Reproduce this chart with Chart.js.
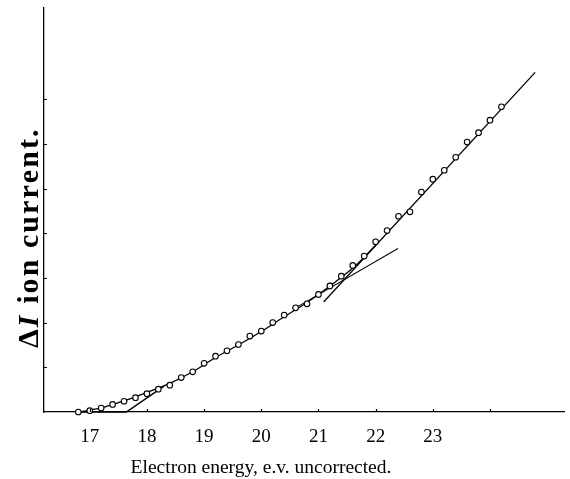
<!DOCTYPE html>
<html>
<head>
<meta charset="utf-8">
<script src="https://cdn.jsdelivr.net/npm/chart.js@4.4.0/dist/chart.umd.min.js"></script>
<style>
  html, body { margin: 0; padding: 0; background: #fff; }
</style>
</head>
<body>
<canvas id="ionChart" width="570" height="479"></canvas>
<script>
// measured points (electron energy in e.v., delta I in arbitrary units)
var energy = [16.8, 17.0, 17.2, 17.4, 17.6, 17.8, 18.0, 18.2, 18.4, 18.6,
              18.8, 19.0, 19.2, 19.4, 19.6, 19.8, 20.0, 20.2, 20.4, 20.6,
              20.8, 21.0, 21.2, 21.4, 21.6, 21.8, 22.0, 22.2, 22.4, 22.6,
              22.8, 23.0, 23.2, 23.4, 23.6, 23.8, 24.0, 24.2];
var ionCurrent = [0.00, 0.03, 0.09, 0.17, 0.24, 0.32, 0.41, 0.51, 0.60, 0.77,
                  0.90, 1.09, 1.25, 1.37, 1.51, 1.70, 1.81, 2.00, 2.17, 2.33,
                  2.42, 2.63, 2.82, 3.04, 3.28, 3.49, 3.81, 4.06, 4.38, 4.48,
                  4.92, 5.21, 5.41, 5.70, 6.04, 6.25, 6.53, 6.83];

// smooth curve drawn through the lower part
var curveEnergy = [16.8, 17.2, 17.6, 18.0, 18.4, 18.8, 19.2, 19.6, 20.0, 20.4, 20.8, 21.2, 21.6, 22.0];
var curveCurrent = [0.00, 0.09, 0.25, 0.44, 0.64, 0.90, 1.22, 1.50, 1.80, 2.13, 2.45, 2.82, 3.22, 3.73];

// straight line fitted to upper part
var upperEnergy = [21.09, 24.79];
var upperCurrent = [2.46, 7.60];

// extension of the lower slope past the break
var lowerEnergy = [20.60, 22.39];
var lowerCurrent = [2.33, 3.66];

// onset extrapolation near 17.6
var onsetEnergy = [16.8, 17.64, 18.3];
var onsetCurrent = [0, 0, 0.58];

var xTicks = [17, 18, 19, 20, 21, 22, 23, 24];
var xTickLabels = ['17', '18', '19', '20', '21', '22', '23', ''];
var yTicks = [1, 2, 3, 4, 5, 6, 7];

var xTitle = 'Electron energy, e.v. uncorrected.';
var yTitleRuns = [
    {text: '\u0394', font: 'bold 30px "Liberation Serif"'},
    {text: 'I', font: 'italic bold 30px "Liberation Serif"'},
    {text: ' ion current.', font: 'bold 30px "Liberation Serif"'}
];

var serif = '"Liberation Serif", "DejaVu Serif", serif';

function pairs(xs, ys) {
    return xs.map(function(x, i) { return {x: x, y: ys[i]}; });
}

function lineSet(xs, ys, extra) {
    var ds = {
        data: pairs(xs, ys),
        showLine: true,
        borderColor: '#000',
        borderWidth: 1.3,
        pointRadius: 0,
        fill: false,
        clip: false
    };
    for (var k in extra) ds[k] = extra[k];
    return ds;
}

// tick marks point into the plot
var inwardTicks = {
    id: 'inwardTicks',
    afterDatasetsDraw: function(chart) {
        var ctx = chart.ctx;
        var xs = chart.scales.x;
        var ys = chart.scales.y;
        ctx.save();
        ctx.strokeStyle = '#000';
        ctx.lineWidth = 1.2;
        ctx.beginPath();
        xTicks.forEach(function(v) {
            var px = Math.round(xs.getPixelForValue(v)) + 0.5;
            ctx.moveTo(px, ys.bottom);
            ctx.lineTo(px, ys.bottom - 3);
        });
        yTicks.forEach(function(v) {
            var py = Math.round(ys.getPixelForValue(v)) + 0.5;
            ctx.moveTo(xs.left, py);
            ctx.lineTo(xs.left + 3, py);
        });
        ctx.stroke();
        ctx.restore();
    }
};

// axis titles sit off-centre in the original, so they are placed by hand
var axisTitles = {
    id: 'axisTitles',
    afterDraw: function(chart) {
        var ctx = chart.ctx;
        ctx.save();
        ctx.fillStyle = '#000';
        ctx.font = '19.5px ' + serif;
        ctx.textAlign = 'center';
        ctx.textBaseline = 'alphabetic';
        ctx.fillText(xTitle, 261, 473);

        ctx.translate(38, 348);
        ctx.rotate(-Math.PI / 2);
        ctx.textAlign = 'left';
        var total = 0, chars = 0;
        yTitleRuns.forEach(function(run) {
            ctx.font = run.font;
            total += ctx.measureText(run.text).width;
            chars += run.text.length;
        });
        var spacing = Math.max(0, (218 - total) / (chars - 1));
        var pos = 0;
        yTitleRuns.forEach(function(run) {
            ctx.font = run.font;
            for (var i = 0; i < run.text.length; i++) {
                var ch = run.text[i];
                ctx.fillText(ch, pos, 0);
                pos += ctx.measureText(ch).width + spacing;
            }
        });
        ctx.restore();
    }
};

var ctx = document.getElementById('ionChart').getContext('2d');
var ionChart = new Chart(ctx, {
    type: 'scatter',
    data: {
        datasets: [
            {
                data: pairs(energy, ionCurrent),
                pointRadius: 2.8,
                pointBorderWidth: 1.1,
                pointBackgroundColor: '#fff',
                pointBorderColor: '#000',
                showLine: false,
                clip: false
            },
            lineSet(curveEnergy, curveCurrent, {cubicInterpolationMode: 'monotone'}),
            lineSet(upperEnergy, upperCurrent, {}),
            lineSet(lowerEnergy, lowerCurrent, {borderWidth: 1.1}),
            lineSet(onsetEnergy, onsetCurrent, {borderWidth: 1.5})
        ]
    },
    options: {
        responsive: false,
        animation: false,
        devicePixelRatio: 1,
        layout: { padding: { top: 8, right: 1, left: 0, bottom: 0 } },
        plugins: {
            legend: { display: false },
            tooltip: { enabled: false },
            title: { display: false }
        },
        scales: {
            x: {
                type: 'linear',
                min: 16.2,
                max: 25.31,
                afterBuildTicks: function(scale) {
                    scale.ticks = xTicks.map(function(v) { return {value: v}; });
                },
                afterFit: function(scale) { scale.height = 67; },
                grid: { display: false, drawTicks: false },
                border: { display: true, color: '#000', width: 1.3 },
                ticks: {
                    color: '#000',
                    padding: 14,
                    maxRotation: 0,
                    autoSkip: false,
                    font: { family: serif, size: 19 },
                    callback: function(value, index) { return xTickLabels[index]; }
                }
            },
            y: {
                type: 'linear',
                min: 0,
                max: 9.04,
                afterBuildTicks: function(scale) {
                    scale.ticks = yTicks.map(function(v) { return {value: v}; });
                },
                afterFit: function(scale) { scale.width = 44; },
                grid: { display: false, drawTicks: false },
                border: { display: true, color: '#000', width: 1.3 },
                ticks: { display: false }
            }
        }
    },
    plugins: [inwardTicks, axisTitles]
});
</script>
</body>
</html>
